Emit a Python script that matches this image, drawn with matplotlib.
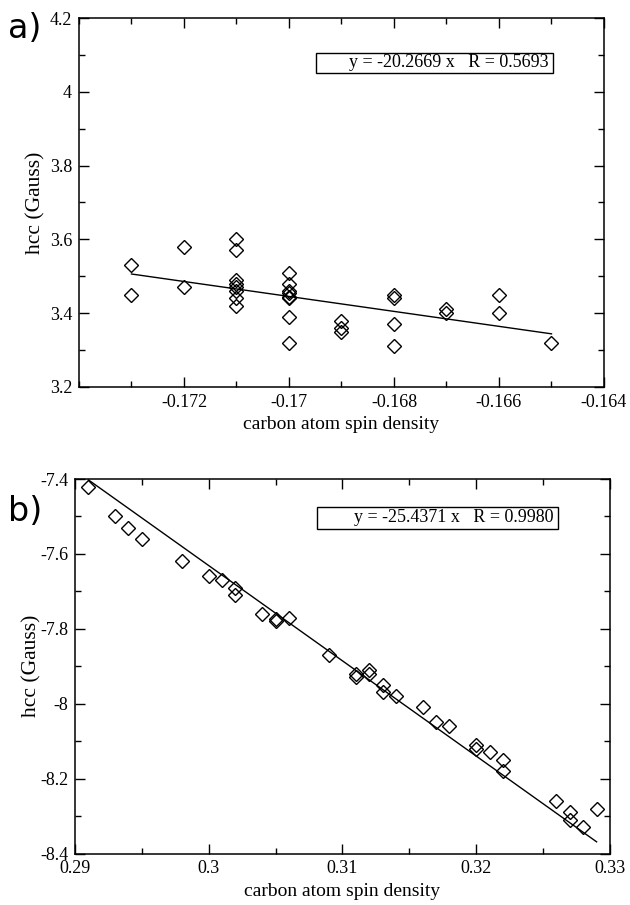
"""Hyperfine coupling hcc vs carbon atom spin density, two panels with linear fits."""
import matplotlib
matplotlib.use("Agg")
import matplotlib.pyplot as plt
from matplotlib.patches import Rectangle
from matplotlib.ticker import FixedLocator, MultipleLocator, FuncFormatter

plt.rcParams["font.family"] = ["Liberation Serif", "DejaVu Serif"]
plt.rcParams["axes.unicode_minus"] = False

# panel a) data
a_x = [-0.173, -0.173, -0.172, -0.172,
       -0.171, -0.171, -0.171, -0.171, -0.171, -0.171, -0.171, -0.171,
       -0.170, -0.170, -0.170, -0.170, -0.170, -0.170, -0.170, -0.170,
       -0.169, -0.169, -0.169,
       -0.168, -0.168, -0.168, -0.168,
       -0.167, -0.167, -0.166, -0.166, -0.165]
a_y = [3.53, 3.45, 3.58, 3.47,
       3.60, 3.57, 3.49, 3.48, 3.47, 3.46, 3.44, 3.42,
       3.51, 3.48, 3.46, 3.455, 3.445, 3.44, 3.39, 3.32,
       3.38, 3.36, 3.35,
       3.45, 3.44, 3.37, 3.31,
       3.41, 3.40, 3.45, 3.40, 3.32]
a_slope, a_r = -20.2669, 0.5693

# panel b) data
b_x = [0.291, 0.293, 0.294, 0.295, 0.298, 0.300, 0.301, 0.302, 0.302, 0.304,
       0.305, 0.305, 0.306, 0.309, 0.311, 0.311, 0.312, 0.312, 0.313, 0.313,
       0.314, 0.316, 0.317, 0.318, 0.320, 0.320, 0.321, 0.322, 0.322, 0.326,
       0.327, 0.327, 0.328, 0.329]
b_y = [-7.42, -7.50, -7.53, -7.56, -7.62, -7.66, -7.67, -7.69, -7.71, -7.76,
       -7.775, -7.78, -7.77, -7.87, -7.92, -7.93, -7.91, -7.92, -7.95, -7.97,
       -7.98, -8.01, -8.05, -8.06, -8.11, -8.12, -8.13, -8.15, -8.18, -8.26,
       -8.29, -8.31, -8.33, -8.28]
b_slope, b_r = -25.4371, 0.9980

a_xticks = [-0.172, -0.170, -0.168, -0.166, -0.164]
a_yticks = [3.2, 3.4, 3.6, 3.8, 4.0, 4.2]
b_xticks = [0.29, 0.30, 0.31, 0.32, 0.33]
b_yticks = [-8.4, -8.2, -8.0, -7.8, -7.6, -7.4]

fmt = FuncFormatter(lambda v, p: f"{v:g}")

fig = plt.figure(figsize=(6.3, 9.05), dpi=100)
ax_a = fig.add_axes([0.1254, 0.5724, 0.8333, 0.4077])
ax_b = fig.add_axes([0.1190, 0.0569, 0.8492, 0.4138])


def panel(ax, x, y, slope, r, xlim, ylim, xticks, yticks, xminor, yminor,
          box_y, ylabelpad):
    ax.plot(x, y, linestyle="none", marker="D", markersize=7.5,
            markerfacecolor="none", markeredgecolor="black", markeredgewidth=1.0)
    xs = [min(x), max(x)]
    ax.plot(xs, [slope * v for v in xs], color="black", linewidth=1.0)

    ax.set_xlim(*xlim)
    ax.set_ylim(*ylim)
    ax.xaxis.set_major_locator(FixedLocator(xticks))
    ax.yaxis.set_major_locator(FixedLocator(yticks))
    ax.xaxis.set_minor_locator(MultipleLocator(xminor))
    ax.yaxis.set_minor_locator(MultipleLocator(yminor))
    ax.xaxis.set_major_formatter(fmt)
    ax.yaxis.set_major_formatter(fmt)
    ax.tick_params(which="both", direction="in", top=True, right=True,
                   labelsize=13, width=1.0)
    ax.tick_params(which="major", length=7, pad=5)
    ax.tick_params(which="minor", length=4)
    for s in ax.spines.values():
        s.set_linewidth(1.1)

    ax.set_xlabel("carbon atom spin density", fontsize=14, labelpad=4)
    ax.set_ylabel("hcc (Gauss)", fontsize=15.5, labelpad=ylabelpad)

    # fit annotation box
    ax.add_patch(Rectangle((0.452, box_y[0]), 0.45, box_y[1] - box_y[0],
                           transform=ax.transAxes, fill=False,
                           edgecolor="black", linewidth=1.0))
    ax.text(0.895, (box_y[0] + box_y[1]) / 2,
            f"y = {slope:.4f} x   R = {r:.4f}",
            transform=ax.transAxes, ha="right", va="center", fontsize=13)


panel(ax_a, a_x, a_y, a_slope, a_r, (-0.174, -0.164), (3.2, 4.2),
      a_xticks, a_yticks, 0.001, 0.1, (0.852, 0.905), 3)
panel(ax_b, b_x, b_y, b_slope, b_r, (0.29, 0.33), (-8.4, -7.4),
      b_xticks, b_yticks, 0.005, 0.1, (0.866, 0.926), -1)

fig.text(0.012, 1 - 28 / 905, "a)", fontsize=24, family="DejaVu Sans",
         ha="left", va="center")
fig.text(0.012, 1 - 511 / 905, "b)", fontsize=24, family="DejaVu Sans",
         ha="left", va="center")

fig.savefig("out.png", dpi=100)
